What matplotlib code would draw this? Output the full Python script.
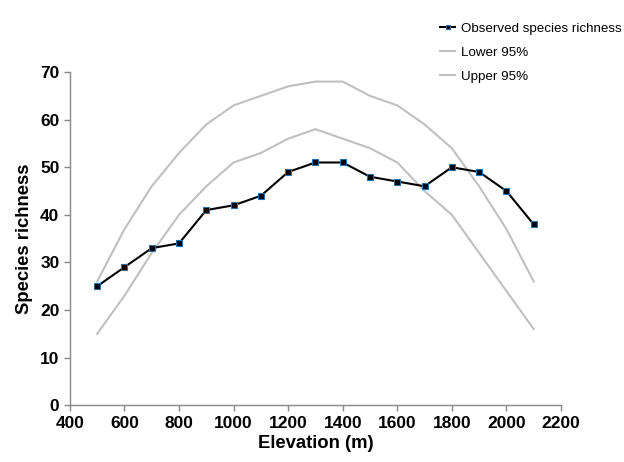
import matplotlib
matplotlib.use("Agg")
import matplotlib.pyplot as plt

plt.rcParams['font.family'] = ['Liberation Sans', 'DejaVu Sans']

elevation = [500, 600, 700, 800, 900, 1000, 1100, 1200, 1300, 1400, 1500, 1600, 1700, 1800, 1900, 2000, 2100]
observed = [25, 29, 33, 34, 41, 42, 44, 49, 51, 51, 48, 47, 46, 50, 49, 45, 38]
lower95 = [15, 23, 32, 40, 46, 51, 53, 56, 58, 56, 54, 51, 45, 40, 32, 24, 16]
upper95 = [26, 37, 46, 53, 59, 63, 65, 67, 68, 68, 65, 63, 59, 54, 46, 37, 26]

fig = plt.figure(figsize=(6.24, 4.62), dpi=100)
ax = fig.add_axes([0.112, 0.123, 0.787, 0.721])

ax.plot(elevation, observed, color='black', lw=1.5, marker='s', ms=4,
        markerfacecolor='black', markeredgecolor='#2a6ea6', markeredgewidth=0.8,
        label='Observed species richness', zorder=3)
ax.plot(elevation, lower95, color='#c0c0c0', lw=1.5, label='Lower 95%', zorder=2)
ax.plot(elevation, upper95, color='#c0c0c0', lw=1.5, label='Upper 95%', zorder=2)

ax.set_xlim(400, 2200)
ax.set_ylim(0, 70)
ax.set_xticks(range(400, 2201, 200))
ax.set_yticks(range(0, 71, 10))
for s in ['top', 'right']:
    ax.spines[s].set_visible(False)
for s in ['left', 'bottom']:
    ax.spines[s].set_color('#888888')
    ax.spines[s].set_linewidth(1.0)
ax.tick_params(colors='#888888', length=4, width=1.0, labelcolor='black')
for lab in ax.get_xticklabels() + ax.get_yticklabels():
    lab.set_fontweight('bold')
    lab.set_fontsize(12.5)

ax.set_xlabel('Elevation (m)', fontsize=13.3, fontweight='bold', labelpad=3)
ax.set_ylabel('Species richness', fontsize=13.3, fontweight='bold', labelpad=5)

leg = ax.legend(loc='upper left', bbox_to_anchor=(0.697, 0.963),
                bbox_transform=fig.transFigure, frameon=False,
                fontsize=9.6, handlelength=1.1, handletextpad=0.45, labelspacing=0.88,
                borderaxespad=0)
leg.legend_handles[0].set_markersize(3)

fig.savefig('out.png', dpi=100)
